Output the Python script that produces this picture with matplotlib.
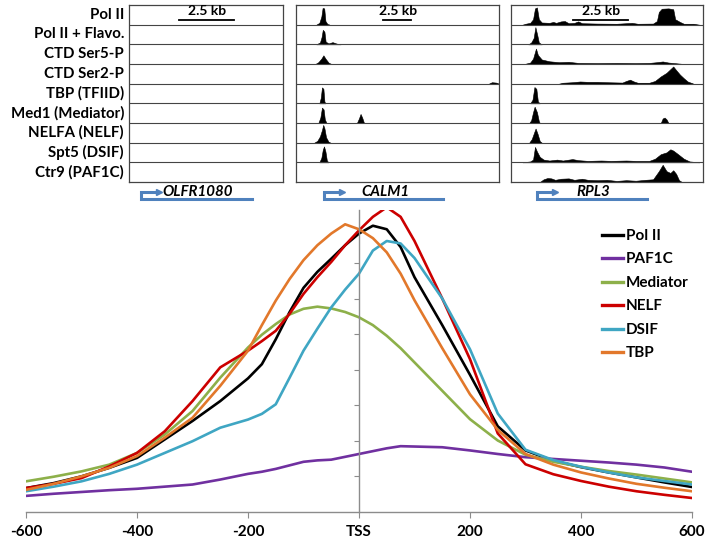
import matplotlib
matplotlib.use("Agg")
import matplotlib.pyplot as plt
import numpy as np

plt.rcParams["font.family"] = ["Lato", "DejaVu Sans"]
plt.rcParams["font.weight"] = "bold"

W, H = 711, 543

# --- profile data (x = distance to TSS, y = signal in axis-tick units) ---
POS = [-600, -550, -500, -450, -400, -350, -300, -250, -200, -175, -150, -125,
       -100, -75, -50, -25, 0, 25, 50, 75, 100, 150, 200, 250, 300, 350, 400,
       450, 500, 550, 600]
POL2 = [0.66, 0.8, 0.99, 1.23, 1.51, 2.03, 2.55, 3.11, 3.75, 4.15, 4.85, 5.62,
        6.3, 6.75, 7.12, 7.5, 7.83, 8.05, 7.95, 7.45, 6.6, 5.25, 3.85, 2.4,
        1.72, 1.43, 1.25, 1.1, 0.96, 0.82, 0.69]
PAF1C = [0.44, 0.5, 0.55, 0.6, 0.64, 0.7, 0.76, 0.9, 1.06, 1.12, 1.2, 1.3,
         1.4, 1.44, 1.46, 1.54, 1.62, 1.7, 1.78, 1.84, 1.83, 1.81, 1.72, 1.62,
         1.53, 1.48, 1.43, 1.38, 1.32, 1.24, 1.12]
MEDIATOR = [0.85, 0.98, 1.13, 1.32, 1.65, 2.17, 2.83, 3.77, 4.62, 4.98, 5.28,
            5.55, 5.71, 5.77, 5.72, 5.62, 5.47, 5.25, 4.95, 4.6, 4.2, 3.4, 2.6,
            2.0, 1.6, 1.4, 1.26, 1.14, 1.04, 0.93, 0.82]
NELF = [0.66, 0.78, 0.94, 1.27, 1.65, 2.26, 3.11, 4.06, 4.53, 4.8, 5.09, 5.57,
        6.13, 6.6, 7.03, 7.5, 7.92, 8.3, 8.57, 8.3, 7.62, 6.0, 4.29, 2.2,
        1.33, 1.05, 0.86, 0.7, 0.57, 0.47, 0.38]
DSIF = [0.57, 0.7, 0.85, 1.06, 1.32, 1.65, 1.98, 2.36, 2.59, 2.75, 3.02, 3.77,
        4.53, 5.15, 5.75, 6.25, 6.7, 7.35, 7.62, 7.55, 7.14, 6.0, 4.57, 2.76,
        1.74, 1.45, 1.26, 1.1, 0.96, 0.86, 0.76]
TBP = [0.61, 0.78, 0.99, 1.23, 1.56, 2.08, 2.64, 3.54, 4.53, 5.25, 5.94, 6.55,
       7.08, 7.5, 7.83, 8.09, 7.95, 7.7, 7.3, 6.7, 5.95, 4.6, 3.3, 2.3, 1.62,
       1.32, 1.1, 0.93, 0.78, 0.67, 0.57]

SERIES = ["Pol II", "PAF1C", "Mediator", "NELF", "DSIF", "TBP"]
COLORS = ["#000000", "#7030a0", "#8db04a", "#cc0000", "#3fa6c3", "#e2782b"]
VALUES = [POL2, PAF1C, MEDIATOR, NELF, DSIF, TBP]

X_TICKS = [-600, -400, -200, 0, 200, 400, 600]
X_LABELS = ["-600", "-400", "-200", "TSS", "200", "400", "600"]

# --- browser tracks: (position within window, height as fraction of row) ---
TRACK_NAMES = ["Pol II", "Pol II + Flavo.", "CTD Ser5-P", "CTD Ser2-P",
               "TBP (TFIID)", "Med1 (Mediator)", "NELFA (NELF)", "Spt5 (DSIF)",
               "Ctr9 (PAF1C)"]
GENES = ["OLFR1080", "CALM1", "RPL3"]

OLFR1080_TRACKS = [[] for _ in range(9)]

CALM1_TRACKS = [
    [(0.10, 0), (0.115, 0.1), (0.125, 0.45), (0.131, 0.92), (0.139, 0.9),
     (0.145, 0.2), (0.155, 0.03), (0.165, 0)],
    [(0.10, 0), (0.118, 0.1), (0.126, 0.4), (0.132, 0.8), (0.14, 0.7),
     (0.146, 0.15), (0.16, 0.05), (0.18, 0.12), (0.2, 0.04), (0.22, 0)],
    [(0.095, 0), (0.11, 0.1), (0.125, 0.3), (0.135, 0.48), (0.145, 0.3),
     (0.16, 0.08), (0.17, 0.02), (0.18, 0)],
    [(0.95, 0), (0.965, 0.08), (0.985, 0.06), (1.0, 0)],
    [(0.115, 0), (0.122, 0.3), (0.128, 0.88), (0.135, 0.8), (0.14, 0.1),
     (0.145, 0)],
    [(0.11, 0), (0.12, 0.3), (0.128, 0.85), (0.136, 0.75), (0.142, 0.2),
     (0.15, 0), (0.30, 0), (0.31, 0.25), (0.318, 0.5), (0.326, 0.3),
     (0.335, 0)],
    [(0.09, 0), (0.105, 0.1), (0.118, 0.35), (0.128, 0.7), (0.134, 0.98),
     (0.14, 0.8), (0.148, 0.3), (0.16, 0.05), (0.17, 0)],
    [(0.115, 0), (0.125, 0.25), (0.132, 0.7), (0.138, 0.88), (0.145, 0.6),
     (0.152, 0.1), (0.16, 0)],
    [],
]

RPL3_TRACKS = [
    [(0.06, 0), (0.08, 0.06), (0.1, 0.1), (0.115, 0.3), (0.125, 0.9),
     (0.135, 0.95), (0.145, 0.3), (0.16, 0.12), (0.2, 0.1), (0.22, 0.15),
     (0.235, 0.1), (0.26, 0.18), (0.28, 0.2), (0.3, 0.08), (0.33, 0.1),
     (0.35, 0.18), (0.37, 0.08), (0.45, 0.06), (0.55, 0.05), (0.6, 0.08),
     (0.63, 0.1), (0.66, 0.05), (0.74, 0.06), (0.76, 0.2), (0.77, 0.7),
     (0.785, 0.88), (0.82, 0.9), (0.845, 0.85), (0.855, 0.3), (0.88, 0.15),
     (0.9, 0.05), (0.95, 0.05), (0.98, 0)],
    [(0.09, 0), (0.105, 0.1), (0.118, 0.35), (0.127, 0.95), (0.137, 0.5),
     (0.145, 0.1), (0.16, 0)],
    [(0.07, 0), (0.1, 0.08), (0.115, 0.3), (0.13, 0.85), (0.14, 0.5),
     (0.16, 0.25), (0.2, 0.15), (0.25, 0.1), (0.3, 0.12), (0.35, 0.06),
     (0.45, 0.05), (0.55, 0.06), (0.65, 0.05), (0.72, 0.06), (0.76, 0.1),
     (0.79, 0.14), (0.82, 0.08), (0.86, 0.04), (0.9, 0)],
    [(0.25, 0), (0.27, 0.05), (0.32, 0.08), (0.36, 0.12), (0.4, 0.1),
     (0.45, 0.1), (0.5, 0.08), (0.58, 0.06), (0.6, 0.15), (0.62, 0.22),
     (0.64, 0.12), (0.66, 0.05), (0.72, 0.05), (0.75, 0.15), (0.78, 0.4),
     (0.81, 0.6), (0.83, 0.8), (0.845, 0.95), (0.86, 0.75), (0.88, 0.5),
     (0.9, 0.3), (0.92, 0.12), (0.95, 0)],
    [(0.1, 0), (0.112, 0.2), (0.122, 0.9), (0.132, 0.8), (0.14, 0.1),
     (0.15, 0)],
    [(0.095, 0), (0.105, 0.15), (0.115, 0.6), (0.123, 0.9), (0.135, 0.6),
     (0.145, 0.1), (0.15, 0), (0.78, 0), (0.79, 0.25), (0.8, 0.3),
     (0.81, 0.2), (0.82, 0)],
    [(0.095, 0), (0.108, 0.2), (0.12, 0.55), (0.128, 0.78), (0.138, 0.5),
     (0.15, 0.08), (0.16, 0)],
    [(0.06, 0), (0.1, 0.05), (0.115, 0.15), (0.125, 0.85), (0.135, 0.6),
     (0.15, 0.3), (0.17, 0.15), (0.2, 0.1), (0.24, 0.15), (0.27, 0.1),
     (0.32, 0.18), (0.35, 0.12), (0.4, 0.08), (0.47, 0.1), (0.52, 0.08),
     (0.6, 0.1), (0.65, 0.08), (0.72, 0.08), (0.75, 0.2), (0.78, 0.45),
     (0.81, 0.55), (0.83, 0.72), (0.845, 0.65), (0.87, 0.45), (0.9, 0.2),
     (0.93, 0.05), (0.96, 0.02), (0.98, 0)],
    [(0.15, 0), (0.17, 0.15), (0.19, 0.22), (0.21, 0.2), (0.23, 0.12),
     (0.26, 0.18), (0.3, 0.2), (0.33, 0.12), (0.37, 0.18), (0.4, 0.12),
     (0.45, 0.1), (0.5, 0.12), (0.55, 0.06), (0.6, 0.1), (0.65, 0.07),
     (0.7, 0.12), (0.74, 0.15), (0.77, 0.6), (0.79, 0.95), (0.81, 0.6),
     (0.83, 0.5), (0.845, 0.65), (0.86, 0.45), (0.875, 0.1), (0.89, 0)],
]


def px_axes(fig, x0, y0, x1, y1):
    """Axes placed by pixel box (top-left origin)."""
    return fig.add_axes([x0 / W, 1 - y1 / H, (x1 - x0) / W, (y1 - y0) / H])


fig = plt.figure(figsize=(W / 100, H / 100), dpi=100)

boxes = [(129, 283), (296, 499), (511, 703)]
scalebars = [(179, 234), (383, 411), (573, 628)]
gene_lines = [(141, 252), (324, 443), (537, 647)]
gene_label_x = [198, 385, 593]
tracks = [OLFR1080_TRACKS, CALM1_TRACKS, RPL3_TRACKS]
top, bot = 5, 182

for (x0, x1), data in zip(boxes, tracks):
    ax = px_axes(fig, x0, top, x1, bot)
    ax.set_xlim(0, 1)
    ax.set_ylim(9, 0)
    ax.set_xticks([])
    ax.set_yticks([])
    for sp in ax.spines.values():
        sp.set_color("#444444")
        sp.set_linewidth(0.9)
    for r in range(1, 9):
        ax.axhline(r, color="#444444", lw=0.8)
    for r, verts in enumerate(data):
        if not verts:
            continue
        xs = [v[0] for v in verts]
        hs = np.array([v[1] for v in verts])
        ax.fill_between(xs, r + 1 - hs * 0.92, r + 1, color="black", lw=0.4,
                        edgecolor="black")

# overlay for labels / gene models, in pixel coordinates (drawn on top)
over = fig.add_axes([0, 0, 1, 1], zorder=10)
over.set_xlim(0, W)
over.set_ylim(H, 0)
over.axis("off")

for s0, s1 in scalebars:
    over.plot([s0, s1], [20, 20], color="black", lw=1.3)
    over.text((s0 + s1) / 2 + 1, 17, "2.5 kb", ha="center", va="bottom",
              fontsize=10, fontweight="bold")

row_h = (bot - top) / 9
for i, name in enumerate(TRACK_NAMES):
    over.text(124, top + row_h * (i + 0.5), name, ha="right", va="center",
              fontsize=10.8, fontweight="bold")

blue = "#4f81bd"
for (g0, g1), gx, gene in zip(gene_lines, gene_label_x, GENES):
    over.plot([g1, g0, g0, g0 + 16], [199, 199, 192, 192], color=blue,
              lw=2.2, solid_joinstyle="miter")
    over.plot([g0 + 18], [192], marker=">", color=blue, markersize=4.5)
    over.text(gx, 191.5, gene, ha="center", va="center", fontsize=10.8,
              fontweight="bold", style="italic")

# --- average profile ---
ax = px_axes(fig, 26, 511.5 - 8.5 * 35.5, 692, 511.5)
for name, color, vals in zip(SERIES, COLORS, VALUES):
    ax.plot(POS, vals, color=color, lw=1.9, label=name)
ax.set_xlim(-600, 600)
ax.set_ylim(0, 8.5)
for s in ["top", "right"]:
    ax.spines[s].set_visible(False)
ax.spines["left"].set_position(("data", 0))
ax.spines["left"].set_color("#8c8c8c")
ax.spines["bottom"].set_color("#8c8c8c")
ax.spines["left"].set_linewidth(1.0)
ax.spines["bottom"].set_linewidth(1.0)
ax.set_yticks(range(1, 8))
ax.set_yticklabels([])
ax.tick_params(axis="y", direction="out", length=3.5, color="#8c8c8c")
ax.set_xticks(X_TICKS)
ax.set_xticklabels(X_LABELS, fontsize=11, fontweight="bold")
ax.tick_params(axis="x", direction="out", length=4, color="#8c8c8c", pad=6)
ax.patch.set_alpha(0)

leg = ax.legend(loc="upper left", bbox_to_anchor=(602 / W, 1 - 229 / H),
                bbox_transform=fig.transFigure, frameon=False, fontsize=11,
                handlelength=1.4, handletextpad=0.15, labelspacing=0.62,
                borderpad=0, borderaxespad=0)
for t in leg.get_texts():
    t.set_fontweight("bold")
for ln in leg.get_lines():
    ln.set_linewidth(2.4)

fig.savefig("out.png", dpi=100)
